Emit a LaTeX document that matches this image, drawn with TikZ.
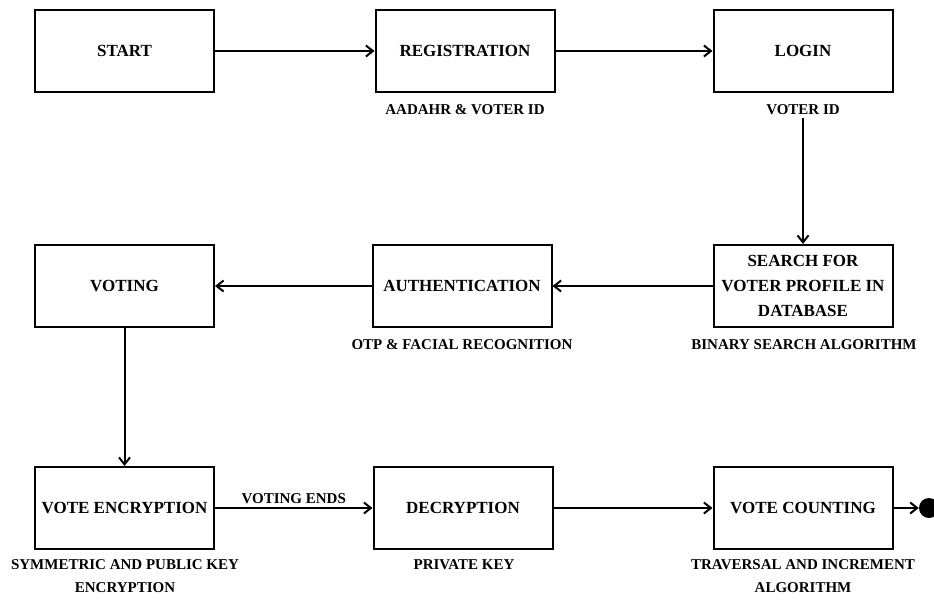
\documentclass[tikz,border=0pt]{standalone}
\usepackage{fontspec}
\setmainfont{Liberation Serif}
\usetikzlibrary{arrows.meta}
\tikzset{
  stage/.style={draw,line width=2pt,minimum width=179pt,minimum height=82pt,inner sep=0pt,align=center,font=\bfseries\fontsize{17}{25}\selectfont},
  note/.style={align=center,inner sep=3pt,font=\bfseries\fontsize{15}{23}\selectfont},
  flow/.style={line width=2pt,-{Straight Barb[length=7pt,width=11pt]}}
}

\begin{document}
\begin{tikzpicture}[x=1pt,y=-1pt]
\useasboundingbox (0,0) rectangle (934,600);
% first row
\node[stage] (start) at (124.5,51) {START};
\node[stage] (reg) at (465,51) {REGISTRATION};
\node[stage] (login) at (803,51) {LOGIN};
\node[note] (reglbl) at (465,110) {AADAHR \& VOTER ID};
\node[note] (loginlbl) at (803,110) {VOTER ID};
% second row
\node[stage] (voting) at (124.5,286) {VOTING};
\node[stage] (auth) at (462,286) {AUTHENTICATION};
\node[stage] (search) at (803,286) {SEARCH FOR\\VOTER PROFILE IN\\DATABASE};
\node[note] (authlbl) at (462,345) {OTP \& FACIAL RECOGNITION};
\node[note] (searchlbl) at (804,345) {BINARY SEARCH ALGORITHM};
% third row
\node[stage] (enc) at (124.5,508) {VOTE ENCRYPTION};
\node[stage] (dec) at (463,508) {DECRYPTION};
\node[stage] (count) at (803,508) {VOTE COUNTING};
\node[note] (enclbl) at (125,576.5) {SYMMETRIC AND PUBLIC KEY\\ENCRYPTION};
\node[note] (declbl) at (464,565) {PRIVATE KEY};
\node[note] (countlbl) at (803,576.5) {TRAVERSAL AND INCREMENT\\ALGORITHM};
\node[circle,fill,minimum size=20pt,inner sep=0pt] (stop) at (929,508) {};
% connectors
\draw[flow] (start) -- (reg);
\draw[flow] (reg) -- (login);
\draw[flow] (loginlbl.south) -- (search.north);
\draw[flow] (search) -- (auth);
\draw[flow] (auth) -- (voting);
\draw[flow] (voting) -- (enc);
\draw[flow] (enc) -- node[note,above] {VOTING ENDS} (dec);
\draw[flow] (dec) -- (count);
\draw[flow] (count.east) -- (stop.west);
\end{tikzpicture}
\end{document}
